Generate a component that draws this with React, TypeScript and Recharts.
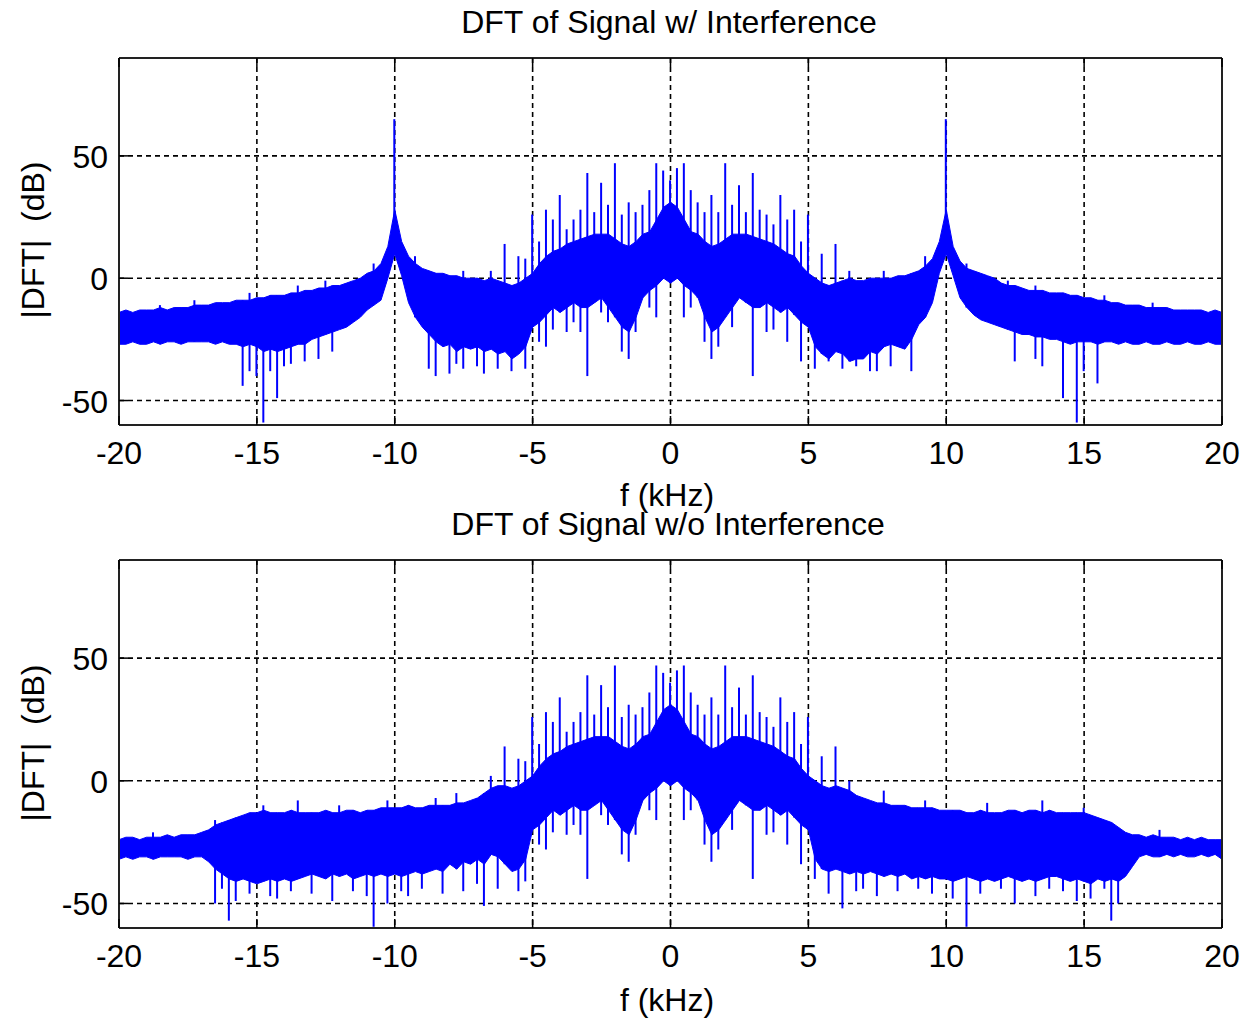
import { ComposedChart, Area, Bar, XAxis, YAxis, CartesianGrid } from "recharts"

// frequency bins: -20 kHz .. 20 kHz every 0.25 kHz
const F_START = -20
const F_STEP = 0.25

const xTicks = [-20, -15, -10, -5, 0, 5, 10, 15, 20]
const yTicks = [-50, 0, 50]

// --- top panel: signal with interference (dB), upper / lower edge of the dense band
const withHi = [
  -14, -13, -14, -13, -13, -13, -12, -13, -12, -12, -12, -11, -11, -11, -10, -10,
  -10, -9, -9, -9, -8, -8, -7, -7, -7, -6, -6, -5, -5, -4, -4, -3,
  -3, -2, -1, 0, 2, 3, 6, 13, 28, 15, 9, 6, 4, 3, 2, 2,
  1, 1, 0, 0, 0, -1, 0, -1, -2, -3, -2, 0, 2, 6, 9, 11,
  12, 14, 15, 16, 17, 18, 18, 18, 16, 14, 13, 15, 18, 19, 24, 29,
  31, 29, 24, 19, 18, 15, 13, 14, 16, 18, 18, 18, 17, 16, 15, 14,
  12, 10, 9, 5, 2, 0, -2, -3, -2, -1, 0, -1, -1, 0, 0, 0,
  0, 1, 1, 2, 3, 5, 8, 15, 28, 13, 7, 4, 3, 2, 1, 0,
  -2, -3, -3, -4, -5, -5, -5, -6, -6, -6, -7, -7, -8, -8, -9, -9,
  -10, -10, -11, -11, -11, -12, -12, -12, -12, -13, -13, -13, -13, -13, -14, -13,
  -14,
]
const withLo = [
  -27, -27, -26, -27, -27, -26, -27, -26, -26, -27, -26, -26, -26, -26, -27, -26,
  -27, -27, -28, -27, -28, -30, -29, -30, -29, -28, -27, -27, -25, -24, -23, -22,
  -21, -20, -18, -16, -13, -11, -9, 0, 10, 1, -10, -16, -20, -23, -26, -28,
  -27, -30, -28, -29, -28, -30, -29, -31, -30, -33, -31, -28, -20, -18, -15, -12,
  -14, -12, -10, -12, -12, -10, -8, -12, -16, -20, -22, -16, -8, -5, -3, 0,
  -2, 0, -3, -5, -8, -16, -22, -20, -16, -12, -8, -10, -12, -12, -10, -12,
  -14, -12, -15, -18, -20, -28, -31, -33, -30, -31, -34, -33, -33, -30, -31, -28,
  -27, -28, -29, -25, -19, -16, -10, 2, 10, 1, -8, -12, -15, -17, -18, -19,
  -20, -21, -22, -23, -23, -24, -24, -25, -25, -26, -27, -26, -26, -26, -27, -26,
  -26, -27, -26, -27, -27, -26, -27, -27, -26, -27, -27, -26, -27, -27, -26, -27,
  -27,
]
// [f, dB] single-bin spikes
const withSpikesUp = [
  [-18.5, -11], [-17.25, -9], [-15.25, -6], [-13.5, -3], [-12.5, -1], [-10.75, 6],
  [-10, 65], [10, 65], [-9.25, 9], [-7.5, 3], [-6.5, 3], [-6, 14], [-5.5, 9], [-5.25, 8],
  [-5, 26], [-4.75, 15], [-4.5, 28], [-4.25, 24], [-4, 34], [-3.75, 20], [-3.5, 24],
  [-3.25, 28], [-3, 43], [-2.75, 27], [-2.5, 39], [-2.25, 30], [-2, 47], [-1.75, 26],
  [-1.5, 31], [-1.25, 27], [-1, 30], [-0.75, 36], [-0.5, 47], [-0.25, 44], [0, 40],
  [0.25, 45], [0.5, 47], [0.75, 36], [1, 31], [1.25, 27], [1.5, 34], [1.75, 27], [2, 47],
  [2.25, 30], [2.5, 38], [2.75, 27], [3, 43], [3.25, 28], [3.5, 26], [3.75, 22], [4, 34],
  [4.25, 24], [4.5, 28], [4.75, 15], [5, 26], [5.5, 10], [6, 14], [6.5, 3], [7.75, 3],
  [9.25, 9], [10.75, 6], [12.25, -1], [13.25, -3], [15.75, -7], [17.5, -10],
]
const withSpikesDown = [
  [-15.5, -44], [-15.25, -38], [-15, -40], [-14.75, -59], [-14.5, -38], [-14.25, -49],
  [-14, -36], [-13.75, -35], [-13.25, -34], [-12.75, -33], [-12.25, -30], [-8.75, -37],
  [-8.5, -40], [-8, -39], [-7.75, -35], [-7.5, -37], [-7, -36], [-6.75, -39], [-6.25, -37],
  [-5.75, -38], [-5.25, -37], [-4.75, -26], [-4.5, -28], [-4.25, -21], [-3.75, -22],
  [-3.5, -18], [-3.25, -22], [-3, -40], [-2.5, -14], [-2.25, -18], [-1.75, -30], [-1.5, -33],
  [-1.25, -22], [-0.75, -12], [-0.5, -16], [0.5, -16], [0.75, -12], [1.25, -26], [1.5, -33],
  [1.75, -28], [2.25, -20], [3, -40], [3.5, -22], [3.75, -21], [4.25, -26], [4.75, -34],
  [5.25, -37], [5.75, -34], [6.25, -37], [6.75, -36], [7.25, -38], [7.5, -38], [8, -36],
  [8.75, -38], [12.5, -34], [13.25, -33], [13.5, -36], [14.25, -49], [14.75, -59], [15, -38],
  [15.5, -43],
]

// --- bottom panel: signal without interference
const withoutHi = [
  -24, -23, -23, -24, -23, -23, -23, -22, -23, -22, -22, -22, -21, -20, -18, -17,
  -16, -15, -14, -13, -13, -12, -13, -13, -13, -12, -13, -13, -13, -13, -12, -13,
  -13, -12, -12, -13, -12, -12, -11, -11, -11, -11, -10, -11, -11, -10, -10, -10,
  -10, -9, -9, -8, -7, -5, -3, -2, -2, -3, -2, 0, 2, 6, 9, 11,
  12, 14, 15, 16, 17, 18, 18, 18, 16, 14, 13, 15, 18, 19, 24, 29,
  31, 29, 24, 19, 18, 15, 13, 14, 16, 18, 18, 18, 17, 16, 15, 14,
  12, 10, 9, 5, 2, 0, -2, -3, -2, -3, -4, -6, -7, -8, -9, -9,
  -10, -10, -10, -11, -11, -11, -11, -12, -12, -12, -12, -13, -13, -12, -13, -13,
  -13, -12, -12, -13, -12, -12, -13, -12, -13, -13, -13, -13, -13, -14, -15, -16,
  -17, -19, -21, -22, -22, -23, -22, -23, -23, -23, -24, -23, -24, -23, -24, -24,
  -24,
]
const withoutLo = [
  -32, -31, -32, -31, -31, -32, -31, -31, -31, -31, -32, -31, -31, -33, -36, -38,
  -40, -41, -40, -41, -42, -41, -40, -41, -40, -41, -40, -39, -38, -39, -40, -38,
  -39, -38, -40, -39, -38, -39, -38, -39, -38, -39, -38, -37, -38, -37, -36, -37,
  -34, -36, -33, -34, -32, -34, -30, -31, -34, -37, -36, -32, -20, -18, -15, -12,
  -14, -12, -10, -12, -12, -10, -8, -12, -16, -20, -22, -16, -8, -5, -3, 0,
  -2, 0, -3, -5, -8, -16, -22, -20, -16, -12, -8, -10, -12, -12, -10, -12,
  -14, -12, -15, -18, -20, -32, -36, -37, -36, -37, -38, -37, -38, -37, -38, -39,
  -38, -39, -38, -40, -39, -40, -39, -40, -40, -41, -40, -39, -40, -41, -40, -41,
  -40, -39, -40, -41, -40, -41, -40, -39, -39, -40, -41, -40, -41, -42, -40, -41,
  -40, -41, -39, -35, -31, -30, -31, -31, -30, -31, -30, -31, -31, -30, -31, -30,
  -32,
]
const withoutSpikesUp = [
  [-18.75, -21], [-16.5, -16], [-14.75, -10], [-13.5, -8], [-12, -10], [-10.25, -8],
  [-8.5, -7], [-7.75, -5], [-6.5, 2], [-6, 14], [-5.5, 9], [-5.25, 8],
  [-5, 26], [-4.75, 15], [-4.5, 28], [-4.25, 24], [-4, 34], [-3.75, 20], [-3.5, 24],
  [-3.25, 28], [-3, 43], [-2.75, 27], [-2.5, 39], [-2.25, 30], [-2, 47], [-1.75, 26],
  [-1.5, 31], [-1.25, 27], [-1, 30], [-0.75, 36], [-0.5, 47], [-0.25, 44], [0, 40],
  [0.25, 45], [0.5, 47], [0.75, 36], [1, 31], [1.25, 27], [1.5, 34], [1.75, 27], [2, 47],
  [2.25, 30], [2.5, 38], [2.75, 27], [3, 43], [3.25, 28], [3.5, 26], [3.75, 22], [4, 34],
  [4.25, 24], [4.5, 28], [4.75, 15], [5, 26], [5.5, 10], [6, 14], [6.5, 0], [7.75, -4],
  [9.25, -8], [11.5, -9], [13.5, -8], [15, -11], [17.75, -20],
]
const withoutSpikesDown = [
  [-16.5, -50], [-16.25, -44], [-16, -57], [-15.75, -49], [-15.25, -46], [-14.5, -47],
  [-14.25, -48], [-13.75, -45], [-13, -46], [-12.25, -49], [-11.5, -45], [-11, -47],
  [-10.75, -59.5], [-10.25, -50], [-9.75, -45], [-9.5, -47], [-9, -44], [-8.25, -46],
  [-7.5, -45], [-7, -42], [-6.75, -51], [-6.25, -44], [-5.5, -45], [-5.25, -41],
  [-4.75, -26], [-4.5, -28], [-4.25, -21], [-3.75, -22], [-3.5, -18], [-3.25, -22],
  [-3, -40], [-2.5, -14], [-2.25, -18], [-1.75, -30], [-1.5, -33], [-1.25, -22],
  [-0.75, -12], [-0.5, -16], [0.5, -16], [0.75, -12], [1.25, -26], [1.5, -33], [1.75, -28],
  [2.25, -20], [3, -40], [3.5, -22], [3.75, -21], [4.25, -26], [4.75, -34],
  [5.25, -40], [5.75, -46], [6.25, -52], [6.75, -45], [7, -44], [7.5, -47], [8.25, -45],
  [9, -44], [9.5, -46], [10.25, -48], [10.75, -59.5], [11.25, -46], [12, -44], [12.5, -50],
  [13.25, -47], [13.75, -44], [14.25, -45], [14.75, -49], [15.25, -48], [15.75, -44],
  [16, -57], [16.25, -50],
]

const buildRows = (hi: number[], lo: number[], up: number[][], down: number[][]) =>
  hi.map((h, i) => {
    const f = F_START + i * F_STEP
    const u = up.find((s) => Math.abs(s[0] - f) < 1e-6)
    const d = down.find((s) => Math.abs(s[0] - f) < 1e-6)
    const l = lo[i]
    return {
      f,
      band: [l, h],
      spike: u || d ? [d ? d[1] : l, u ? u[1] : h] : null,
    }
  })

const withRows = buildRows(withHi, withLo, withSpikesUp, withSpikesDown)
const withoutRows = buildRows(withoutHi, withoutLo, withoutSpikesUp, withoutSpikesDown)

const fontFamily = '"Liberation Sans", Arial, Helvetica, sans-serif'
const BLUE = "#0000ff"

const BottomTick = (props: any) => {
  const { x, y, payload } = props
  return (
    <g>
      <line x1={x} x2={x} y1={y} y2={y - 9} stroke="#000" strokeWidth={1.5} />
      <text x={x} y={y + 39} textAnchor="middle" fontSize={32} fontFamily={fontFamily} fill="#000">
        {payload.value}
      </text>
    </g>
  )
}

const TopTick = (props: any) => {
  const { x, y } = props
  return <line x1={x} x2={x} y1={y} y2={y + 9} stroke="#000" strokeWidth={1.5} />
}

const LeftTick = (props: any) => {
  const { x, y, payload } = props
  return (
    <g>
      <line x1={x} x2={x + 9} y1={y} y2={y} stroke="#000" strokeWidth={1.5} />
      <text x={x - 11} y={y + 12} textAnchor="end" fontSize={32} fontFamily={fontFamily} fill="#000">
        {payload.value}
      </text>
    </g>
  )
}

const RightTick = (props: any) => {
  const { x, y } = props
  return <line x1={x} x2={x - 9} y1={y} y2={y} stroke="#000" strokeWidth={1.5} />
}

const Label = ({ x, y, text, rotate }: { x: number; y: number; text: string; rotate?: boolean }) => (
  <div
    style={{
      position: "absolute",
      left: x,
      top: y,
      transform: `translate(-50%, -50%)${rotate ? " rotate(-90deg)" : ""}`,
      fontSize: 32,
      fontFamily,
      lineHeight: 1,
      whiteSpace: "pre",
      color: "#000",
    }}
  >
    {text}
  </div>
)

const axisLine = { stroke: "#222", strokeWidth: 2 }

// plot box: x 119..1222, y plotTop..plotBottom (relative to the panel)
const Panel = ({ rows, top, height, plotTop, plotBottom }: any) => (
  <div style={{ position: "absolute", left: 0, top, width: 1246, height }}>
    <ComposedChart
      width={1246}
      height={height}
      data={rows}
      margin={{ top: plotTop - 10, right: 14, bottom: height - plotBottom - 60, left: 19 }}
    >
      <XAxis
        dataKey="f"
        type="number"
        domain={[-20, 20]}
        ticks={xTicks}
        interval={0}
        allowDataOverflow
        height={60}
        tickSize={0}
        tickMargin={0}
        tickLine={false}
        axisLine={axisLine}
        tick={BottomTick}
      />
      <XAxis
        xAxisId="top"
        orientation="top"
        dataKey="f"
        type="number"
        domain={[-20, 20]}
        ticks={xTicks}
        interval={0}
        height={10}
        tickSize={0}
        tickMargin={0}
        tickLine={false}
        axisLine={axisLine}
        tick={TopTick}
      />
      <YAxis
        type="number"
        domain={[-60, 90]}
        ticks={yTicks}
        interval={0}
        allowDataOverflow
        width={100}
        tickSize={0}
        tickMargin={0}
        tickLine={false}
        axisLine={axisLine}
        tick={LeftTick}
      />
      <YAxis
        yAxisId="right"
        orientation="right"
        type="number"
        domain={[-60, 90]}
        ticks={yTicks}
        interval={0}
        width={10}
        tickSize={0}
        tickMargin={0}
        tickLine={false}
        axisLine={axisLine}
        tick={RightTick}
      />
      <Area
        dataKey="band"
        type="linear"
        stroke={BLUE}
        strokeWidth={1}
        fill={BLUE}
        fillOpacity={1}
        dot={false}
        activeDot={false}
        isAnimationActive={false}
      />
      <Bar dataKey="spike" fill={BLUE} barSize={2} isAnimationActive={false} />
      <CartesianGrid stroke="#000" strokeDasharray="5 4" strokeWidth={1.6} />
    </ComposedChart>
  </div>
)

export default function App() {
  return (
    <div style={{ position: "fixed", left: 0, top: 0, width: 1246, height: 1018, background: "#fff" }}>
      <Panel rows={withRows} top={0} height={500} plotTop={58} plotBottom={425} />
      <Panel rows={withoutRows} top={500} height={518} plotTop={60} plotBottom={428} />
      <Label x={669} y={22} text="DFT of Signal w/ Interference" />
      <Label x={667} y={495} text="f (kHz)" />
      <Label x={33} y={240} text="|DFT|  (dB)" rotate />
      <Label x={668} y={524} text="DFT of Signal w/o Interference" />
      <Label x={667} y={1000} text="f (kHz)" />
      <Label x={33} y={743} text="|DFT|  (dB)" rotate />
    </div>
  )
}
